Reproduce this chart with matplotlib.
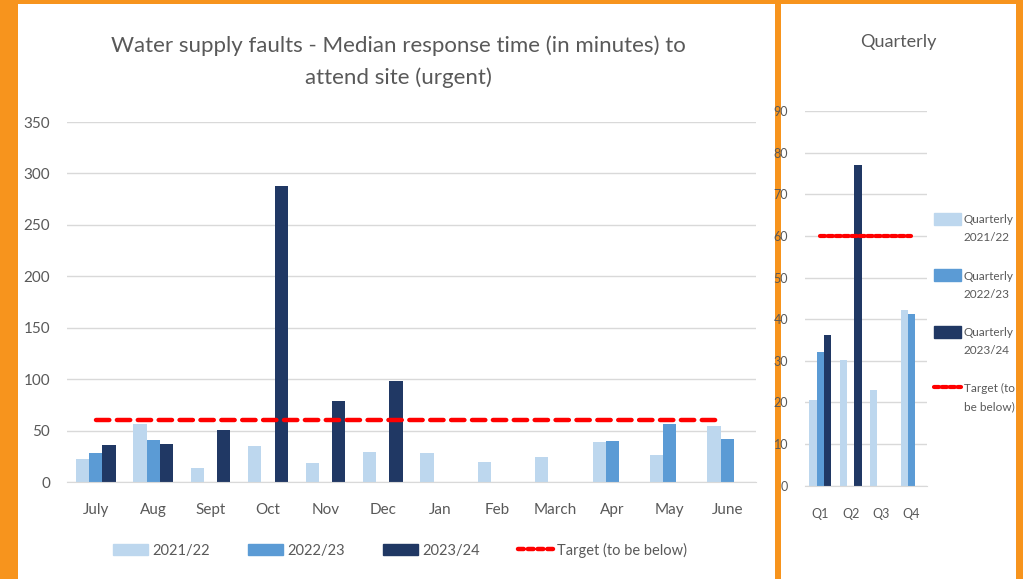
import matplotlib.pyplot as plt
import numpy as np
from matplotlib.patches import Rectangle
from matplotlib.lines import Line2D
from matplotlib.patches import Patch
from matplotlib.legend_handler import HandlerPatch, HandlerLine2D

months = ["July", "Aug", "Sept", "Oct", "Nov", "Dec", "Jan", "Feb", "March", "Apr", "May", "June"]
fy_2122 = [22, 56, 14, 35, 18, 29, 28, 19, 24, 39, 26, 54]
fy_2223 = [28, 41, 0, 0, 0, 0, 0, 0, 0, 40, 56, 42]
fy_2324 = [36, 37, 51, 288, 79, 98, 0, 0, 0, 0, 0, 0]
target = 60

quarters = ["Q1", "Q2", "Q3", "Q4"]
q_2122 = [20.6, 30.1, 23.1, 42.2]
q_2223 = [32.1, 0, 0, 41.2]
q_2324 = [36.1, 77.1, 0, 0]

LIGHT = "#BDD7EE"
MID = "#5B9BD5"
DARK = "#203864"
RED = "#FF0000"
GRID = "#D9D9D9"
TEXT = "#595959"
ORANGE = "#F7941D"

W, H = 1023, 579
fig = plt.figure(figsize=(W / 100, H / 100), dpi=100, facecolor=ORANGE)

# white panels on the orange frame
fig.patches.append(Rectangle((18 / W, 0), (775 - 18) / W, (H - 4) / H,
                             transform=fig.transFigure, facecolor="white", zorder=-5))
fig.patches.append(Rectangle((781 / W, 0), (1016 - 781) / W, (H - 4) / H,
                             transform=fig.transFigure, facecolor="white", zorder=-5))

main_font = ["Lato", "DejaVu Sans"]


def style_axes(ax, ymax, step, size):
    ax.set_facecolor("none")
    ax.set_ylim(0, ymax)
    ax.set_yticks(np.arange(0, ymax + 1, step))
    ax.grid(axis="y", color=GRID, linewidth=1)
    ax.set_axisbelow(True)
    for s in ["top", "right", "left"]:
        ax.spines[s].set_visible(False)
    ax.spines["bottom"].set_color(GRID)
    ax.tick_params(length=0, colors=TEXT, labelsize=size)
    for lab in ax.get_xticklabels() + ax.get_yticklabels():
        lab.set_family(main_font)


# monthly chart
ax = fig.add_axes([67 / W, (H - 482) / H, (756 - 67) / W, (482 - 122) / H])
x = np.arange(len(months))
bw = 0.23
ax.bar(x - bw, fy_2122, bw, color=LIGHT)
ax.bar(x, fy_2223, bw, color=MID)
ax.bar(x + bw, fy_2324, bw, color=DARK)
ax.plot([x[0], x[-1] - 0.1], [target, target], color=RED, linewidth=3.2,
        linestyle=(0, (3.0, 1.7)), dash_capstyle="round")
ax.set_xlim(-0.5, len(months) - 0.5)
ax.set_xticks(x)
ax.set_xticklabels(months)
style_axes(ax, 350, 50, 11)
ax.tick_params(axis="x", pad=15)
ax.tick_params(axis="y", pad=12)

fig.text(398 / W, 1 - 62 / H,
         "Water supply faults - Median response time (in minutes) to\nattend site (urgent)",
         ha="center", va="center", fontsize=16, color=TEXT, family=main_font,
         linespacing=1.7)

handles = [Patch(color=LIGHT), Patch(color=MID), Patch(color=DARK),
           Line2D([], [], color=RED, linewidth=3.2, linestyle=(0, (1.3, 0.9)), dash_capstyle="round")]
labels = ["2021/22", "2022/23", "2023/24", "Target (to be below)"]
fig.legend(handles, labels, loc="center", bbox_to_anchor=(400 / W, 1 - 550 / H),
           ncol=4, frameon=False, prop={"family": main_font, "size": 10.5},
           labelcolor=TEXT, handlelength=2.4, handleheight=0.8, columnspacing=2.6,
           handletextpad=0.3)

# quarterly chart
ax2 = fig.add_axes([805 / W, (H - 485.7) / H, 121.7 / W, (485.7 - 111) / H])
q = np.arange(len(quarters))
qw = 0.24
ax2.bar(q - qw, q_2122, qw, color=LIGHT)
ax2.bar(q, q_2223, qw, color=MID)
ax2.bar(q + qw, q_2324, qw, color=DARK)
ax2.plot([q[0], q[-1]], [target, target], color=RED, linewidth=3,
         linestyle=(0, (1.2, 0.7)), dash_capstyle="round")
ax2.set_xlim(-0.5, len(quarters) - 0.5)
ax2.set_xticks(q)
ax2.set_xticklabels(quarters)
style_axes(ax2, 90, 10, 9)
ax2.tick_params(axis="x", pad=16)
ax2.tick_params(axis="y", pad=12)

fig.text(898 / W, 1 - 42 / H, "Quarterly", ha="center", va="center",
         fontsize=13, color=TEXT, family=main_font)

# quarterly legend: handles sit next to the first line of each label
SHIFT = 7.5


def raised_patch(legend, orig_handle, xdescent, ydescent, width, height, fontsize):
    return Rectangle((-xdescent, -ydescent + SHIFT), width, height)


class RaisedLine(HandlerLine2D):
    def create_artists(self, legend, orig_handle, xdescent, ydescent, width, height, fontsize, trans):
        arts = super().create_artists(legend, orig_handle, xdescent, ydescent, width, height, fontsize, trans)
        for a in arts:
            a.set_ydata(np.asarray(a.get_ydata()) + SHIFT)
        return arts


q_handles = [Patch(color=LIGHT), Patch(color=MID), Patch(color=DARK),
             Line2D([], [], color=RED, linewidth=3, linestyle=(0, (1.2, 0.7)), dash_capstyle="round")]
q_labels = ["Quarterly\n2021/22", "Quarterly\n2022/23", "Quarterly\n2023/24", "Target (to\nbe below)"]
hmap = {Patch: HandlerPatch(patch_func=raised_patch), Line2D: RaisedLine()}
leg = fig.legend(q_handles, q_labels, loc="upper left", bbox_to_anchor=(926 / W, 1 - 206 / H),
                 ncol=1, frameon=False, prop={"family": main_font, "size": 8.5},
                 labelcolor=TEXT, handlelength=2.3, handleheight=1.2, labelspacing=2.3,
                 handletextpad=0.2, borderpad=0.2, handler_map=hmap)
for t in leg.get_texts():
    t.set_linespacing(1.8)

fig.savefig("out.png", dpi=100, facecolor=ORANGE)
